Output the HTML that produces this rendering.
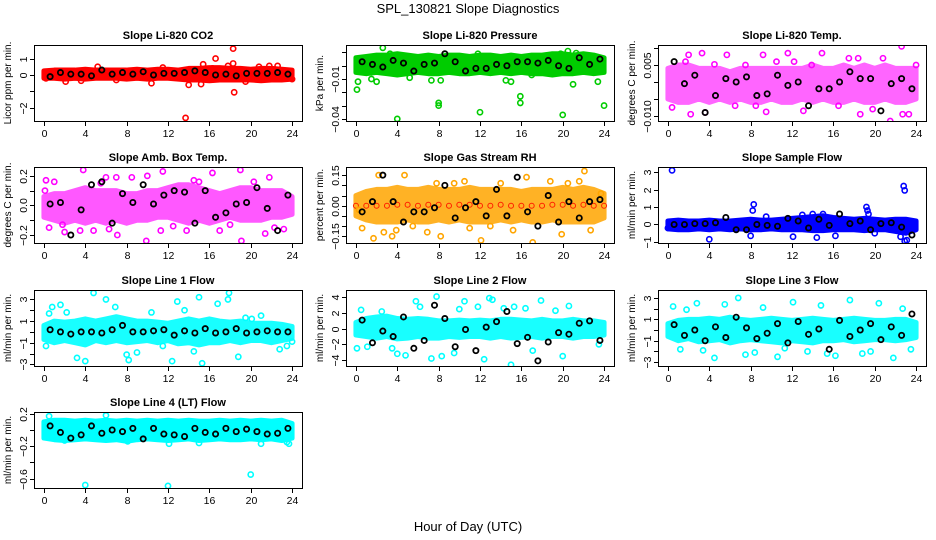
<!DOCTYPE html>
<html><head><meta charset="utf-8"><style>
body{margin:0;background:#fff}
svg{display:block;font-family:"Liberation Sans",sans-serif}
</style></head><body>
<svg id="c" width="936" height="540" viewBox="0 0 936 540">
<text x="468" y="13" font-size="13" text-anchor="middle">SPL_130821  Slope Diagnostics</text>
<text x="468" y="531" font-size="13" text-anchor="middle">Hour of Day (UTC)</text>
</svg>
<script>
const bandHours=[0,1,2,3,4,5,6,7,8,9,10,11,12,13,14,15,16,17,18,19,20,21,22,23,24];
const blackHours=[0.6,1.6,2.6,3.6,4.6,5.6,6.6,7.6,8.6,9.6,10.6,11.6,12.6,13.6,14.6,15.6,16.6,17.6,18.6,19.6,20.6,21.6,22.6,23.6];
const xTicks=[0,4,8,12,16,20,24];

const co2Lo=[-0.2,-0.2,-0.25,-0.2,-0.25,-0.2,-0.2,-0.2,-0.25,-0.2,-0.25,-0.2,-0.2,-0.25,-0.3,-0.3,-0.35,-0.3,-0.3,-0.3,-0.3,-0.35,-0.3,-0.3,-0.25];
const co2Hi=[0.25,0.3,0.3,0.3,0.35,0.3,0.3,0.3,0.3,0.35,0.3,0.35,0.35,0.3,0.4,0.4,0.45,0.45,0.4,0.4,0.35,0.4,0.4,0.35,0.3];
const co2Black=[-0.1,0.15,0.05,0.05,-0.05,0.3,0.05,0.15,0.05,0.2,0.0,0.1,0.1,0.15,0.25,0.15,0.0,0.05,-0.05,0.1,0.1,0.1,0.15,0.05];
const co2X=[13.7,18.3,18.4,16.6,10.4,14,15.2,2.1,5.2,15.4,17.8,21.8,22.6,0.2,24,20.8,16.3,18.3,3.6,7,11.5,19.5];
const co2Y=[-2.6,1.6,-1.05,1.0,-0.5,-0.6,-0.55,-0.4,0.5,0.65,0.55,0.55,0.55,-0.2,-0.25,0.5,0.4,0.7,-0.35,-0.3,0.45,-0.4];

const presLo=[-0.005,-0.006,-0.005,-0.006,-0.007,-0.006,-0.005,-0.006,-0.006,-0.005,-0.006,-0.006,-0.005,-0.006,-0.005,-0.006,-0.005,-0.006,-0.006,-0.007,-0.006,-0.006,-0.005,-0.006,-0.005];
const presHi=[0.006,0.007,0.008,0.008,0.009,0.008,0.007,0.008,0.007,0.008,0.008,0.007,0.008,0.008,0.007,0.008,0.007,0.008,0.008,0.009,0.009,0.008,0.009,0.008,0.006];
const presBlack=[0.003,0.001,-0.001,0.004,0.002,-0.004,0.001,0.002,0.009,0.003,-0.004,-0.002,-0.002,0.001,0.0,0.003,0.003,0.002,0.004,0.0,-0.002,0.006,0.001,0.005];
const presX=[0.1,0.2,2.6,4,8,8,8.2,12,15.9,15.9,20,24,20.5,21.3,19.8,1.5,2,14.5,15,23.4,21,5.2,7.3,3.3,11.8,17];
const presY=[-0.018,-0.012,0.0135,-0.04,-0.028,-0.03,-0.011,-0.035,-0.028,-0.023,-0.037,-0.030,0.011,0.0095,0.009,-0.01,-0.012,-0.011,-0.012,-0.012,-0.014,-0.009,-0.011,0.009,0.009,-0.007];

const tempLo=[-0.005,-0.006,-0.006,-0.005,-0.006,-0.005,-0.006,-0.005,-0.006,-0.006,-0.005,-0.006,-0.006,-0.005,-0.006,-0.005,-0.006,-0.006,-0.005,-0.006,-0.006,-0.005,-0.006,-0.006,-0.005];
const tempHi=[0.004,0.005,0.005,0.004,0.004,0.004,0.003,0.004,0.004,0.004,0.004,0.004,0.004,0.004,0.005,0.004,0.004,0.005,0.004,0.005,0.004,0.005,0.004,0.004,0.004];
const tempBlack=[0.006,-0.0005,0.002,-0.009,-0.004,0.001,0.0,0.0015,-0.004,-0.0035,0.002,-0.001,0.0,-0.007,-0.002,-0.002,0.0,0.003,0.001,0.001,-0.0085,-0.0005,0.001,-0.002];
const tempX=[3.3,5.7,2,9.2,11.6,14.9,22.6,21.5,2.2,3.6,9.5,13.1,18.6,22.7,23.3,0.4,4.5,17.5,18.4,20.8,24,1.7,13.9,6.5,8.5,10.5,16.5,19.8,12.2,7.5];
const tempY=[0.0085,0.008,0.008,0.008,0.0085,0.0085,0.0105,-0.0115,-0.0095,-0.009,-0.0088,-0.0085,-0.0095,-0.0095,-0.0095,-0.0075,0.0052,0.007,0.007,0.007,0.005,0.006,0.005,-0.007,-0.007,0.006,-0.007,-0.008,0.006,0.005];

const ambLo=[-0.08,-0.1,-0.12,-0.1,-0.12,-0.1,-0.12,-0.1,-0.12,-0.1,-0.1,-0.08,-0.08,-0.1,-0.12,-0.1,-0.12,-0.1,-0.08,-0.1,-0.1,-0.1,-0.08,-0.08,-0.06];
const ambHi=[0.06,0.08,0.08,0.1,0.12,0.1,0.1,0.1,0.08,0.08,0.1,0.1,0.12,0.14,0.14,0.12,0.1,0.08,0.1,0.12,0.12,0.1,0.1,0.1,0.06];
const ambBlack=[0.01,0.02,-0.2,-0.03,0.14,0.16,-0.12,0.08,0.02,0.14,0.01,0.07,0.1,0.09,-0.12,0.1,-0.08,-0.05,0.01,0.02,0.12,-0.02,-0.17,0.07];
const ambX=[0.2,0.1,1,3.8,6,7,8.5,10,11.5,14.5,16.3,19,21.8,0.5,2,3.5,4.8,6.3,7.1,9.9,11.3,13.8,17,19.1,21.4,22.3,23.2,5.5,15,20.3,1.8,12.5,18];
const ambY=[0.17,0.1,0.16,0.24,0.19,0.19,0.19,0.2,0.23,0.17,0.22,0.24,0.19,-0.15,-0.18,-0.17,-0.17,-0.16,-0.2,-0.24,-0.17,-0.17,-0.17,-0.24,-0.19,-0.15,-0.16,0.15,0.16,0.16,-0.13,-0.14,-0.13];

const rhLo=[-0.05,-0.07,-0.08,-0.08,-0.08,-0.07,-0.08,-0.08,-0.07,-0.08,-0.07,-0.08,-0.08,-0.08,-0.07,-0.08,-0.07,-0.08,-0.08,-0.07,-0.08,-0.08,-0.08,-0.08,-0.06];
const rhHi=[0.05,0.07,0.08,0.08,0.09,0.08,0.08,0.09,0.08,0.08,0.08,0.09,0.08,0.08,0.08,0.08,0.07,0.08,0.08,0.08,0.09,0.08,0.09,0.08,0.06];
const rhBlack=[-0.03,0.02,0.15,0.02,-0.08,-0.03,-0.03,-0.01,0.1,-0.06,-0.01,0.02,-0.05,0.08,-0.05,0.14,-0.03,-0.1,0.05,-0.08,0.02,-0.06,0.02,0.03];
const rhX=[1.7,2.2,4.7,0.6,2.7,3.5,6.9,8.2,12.1,17.1,19.9,22.7,22.1,16.5,11,15.2,23.7,3.9,7.8,10.5,14,18.8,21.6,0.3,5.5,9.5,13,20.5];
const rhY=[-0.16,0.15,0.15,-0.11,-0.13,-0.15,-0.13,-0.15,-0.17,-0.18,-0.14,-0.12,0.17,0.14,-0.11,-0.12,0.06,-0.12,0.11,0.12,0.11,0.12,0.12,-0.02,-0.1,0.11,-0.1,0.11];

const sfLo=[-0.25,-0.3,-0.3,-0.25,-0.3,-0.25,-0.3,-0.25,-0.3,-0.3,-0.25,-0.3,-0.3,-0.3,-0.35,-0.35,-0.3,-0.3,-0.3,-0.35,-0.3,-0.3,-0.4,-0.5,-0.3];
const sfHi=[0.2,0.25,0.2,0.2,0.25,0.2,0.2,0.25,0.3,0.25,0.25,0.3,0.35,0.4,0.45,0.5,0.4,0.35,0.3,0.35,0.3,0.25,0.3,0.3,0.2];
const sfBlack=[0.0,0.0,0.05,0.05,0.1,0.4,-0.3,-0.3,0.0,-0.05,-0.1,0.35,0.2,-0.2,0.3,-0.05,0.6,0.05,0.2,-0.3,0.05,0.1,-0.15,-0.6];
const sfX=[0.4,22.8,22.9,8.3,8.2,19.2,19.3,19.4,4,8,12.1,14.4,16.2,22.9,23.1,22.5,9.5,13,14,15,20,0.0,23.8];
const sfY=[3.1,2.2,1.95,1.15,0.8,1.0,0.8,0.6,-0.85,-0.65,-0.7,-0.75,-0.65,-0.95,-0.9,-0.7,0.45,0.55,0.6,0.6,-0.5,-0.2,-0.1];

const l1Lo=[-0.7,-1.0,-0.8,-1.0,-1.2,-0.8,-1.0,-0.8,-1.0,-0.9,-0.8,-1.0,-0.8,-1.1,-1.0,-1.2,-1.0,-1.0,-0.8,-1.0,-0.8,-0.8,-1.0,-0.8,-0.6];
const l1Hi=[0.6,1.0,0.9,1.0,1.2,1.0,1.2,1.4,1.2,1.0,1.0,0.9,0.8,1.0,1.2,1.0,1.2,1.0,0.9,1.0,0.8,0.8,0.8,0.7,0.5];
const l1Black=[0.2,0.0,-0.2,0.0,0.0,-0.1,0.2,0.6,0.0,0.0,0.1,0.2,-0.3,0.1,-0.1,0.3,-0.1,0.0,0.3,-0.1,0.0,0.1,0.0,0.0];
const l1X=[0.2,0.5,0.8,1.6,4.8,6,3.2,4,8,8.2,9,12.4,12.9,14.5,15,15.3,16.8,17.8,17.9,18.8,21,22.8,23.5,24,2.2,6.9,10.4,11.5,13.6,19.5,20.1];
const l1Y=[-1.3,1.7,2.3,2.5,3.6,3.0,-2.4,-2.7,-2.1,-2.6,-1.9,-2.7,2.8,-1.8,3.2,-2.9,2.6,3.0,3.6,-2.3,1.5,-1.6,-1.3,-0.9,1.8,2.3,1.8,-1.3,2.0,1.3,1.2];

const l2Lo=[-0.8,-1.0,-1.2,-1.0,-1.3,-1.2,-1.0,-1.2,-1.2,-1.0,-1.1,-1.0,-1.0,-1.2,-1.0,-1.2,-1.1,-1.0,-1.2,-1.0,-1.0,-1.2,-1.0,-1.0,-0.8];
const l2Hi=[0.8,1.3,1.5,1.6,1.3,1.2,1.3,1.2,1.0,1.0,1.1,1.0,1.1,1.0,1.2,1.2,1.1,1.0,1.2,1.0,1.0,1.2,1.0,1.0,0.8];
const l2Black=[1.1,-1.8,-0.3,-1.0,1.5,-2.5,-1.5,3.0,1.3,-2.3,-0.1,-2.8,0.2,0.9,2.2,-1.9,-1.1,-4.1,-1.7,-0.5,-0.7,0.7,1.0,-1.5];
const l2X=[0.1,0.5,1.1,3.5,4,4.8,5.8,7.3,7.8,8.3,9.5,10.5,11.8,12.9,13.2,14.3,15,15.3,16.4,17.9,19.3,20,20.6,23.5,6.2,2.5,10,17.1,12.4];
const l2Y=[-2.5,2.4,-2.3,-2.5,-3.2,-3.4,3.5,-3.8,4.1,-3.5,-3.1,3.5,2.8,3.9,3.7,2.6,-4.6,2.8,2.6,3.6,2.3,-3.5,2.9,-2.0,2.8,2.2,2.5,-2.8,-3.9];

const l3Lo=[-0.6,-1.0,-0.8,-1.1,-1.0,-0.9,-1.2,-1.0,-0.9,-1.0,-1.1,-1.2,-1.0,-1.1,-1.2,-1.0,-1.0,-0.9,-1.1,-1.0,-0.9,-0.9,-1.0,-0.9,-0.7];
const l3Hi=[0.6,0.9,1.0,1.0,1.1,1.0,1.2,1.0,0.9,1.0,1.1,1.0,0.9,1.0,1.1,1.0,0.9,1.0,1.1,1.0,0.9,0.9,1.0,1.0,0.7];
const l3Black=[0.5,-0.5,0.0,-1.0,0.3,-0.7,1.2,0.2,-0.8,-0.3,0.6,-1.2,0.8,-0.4,0.1,-1.8,0.9,-0.6,0.0,0.6,-0.9,0.3,-0.5,1.5];
const l3X=[0.5,1.2,2.8,4.5,5.5,6.8,7.5,9.2,10.6,12.1,13.5,14.8,16.2,17.6,18.8,20.4,21.8,22.7,23.5,3.4,8.4,11.3,15.4,19.6,1.8];
const l3Y=[2.2,-1.8,2.5,-2.6,2.4,3.0,-2.3,2.1,-2.5,2.6,-2.0,2.3,-2.4,2.8,-2.2,2.5,-2.6,2.0,-1.8,-1.9,-2.1,-1.7,-2.2,-2.0,1.9];

const l4Lo=[-0.1,-0.12,-0.13,-0.12,-0.11,-0.12,-0.13,-0.12,-0.14,-0.12,-0.11,-0.12,-0.13,-0.12,-0.11,-0.13,-0.12,-0.11,-0.12,-0.12,-0.11,-0.12,-0.11,-0.13,-0.1];
const l4Hi=[0.1,0.12,0.12,0.11,0.12,0.11,0.12,0.11,0.12,0.11,0.12,0.11,0.12,0.11,0.12,0.11,0.11,0.12,0.11,0.12,0.11,0.12,0.11,0.12,0.08];
const l4Black=[0.05,-0.03,-0.1,-0.06,0.05,-0.04,0.0,-0.02,0.02,-0.11,0.02,-0.05,-0.06,-0.08,0.02,-0.03,-0.05,0.02,-0.02,0.01,-0.02,-0.05,-0.04,0.02];
const l4X=[4,12,20,0.5,6,23.7,12.1,21,2,15,8.1,0.1,23.5];
const l4Y=[-0.68,-0.69,-0.55,0.17,0.18,-0.17,-0.17,-0.17,-0.13,-0.16,-0.14,-0.07,-0.15];

const panels=[
 {t:"Slope Li-820 CO2",yl:"Licor ppm per min.",c:"#ff0000",op:1,r:0,k:0,d:[-2.79,1.82],tk:[-2,-1,0,1],lb:["\u22122",null,"0","1"],lo:co2Lo,hi:co2Hi,bk:co2Black,sx:co2X,sy:co2Y},
 {t:"Slope Li-820 Pressure",yl:"kPa per min.",c:"#00cc00",op:1,r:0,k:1,d:[-0.0416,0.0156],tk:[-0.04,-0.03,-0.02,-0.01,0,0.01],lb:["\u22120.04",null,null,"\u22120.01",null,null],lo:presLo,hi:presHi,bk:presBlack,sx:presX,sy:presY},
 {t:"Slope Li-820 Temp.",yl:"degrees C per min.",c:"#ff00ff",op:0.6,r:0,k:2,d:[-0.0115,0.0109],tk:[-0.01,-0.005,0,0.005,0.01],lb:["\u22120.010",null,null,"0.005",null],lo:tempLo,hi:tempHi,bk:tempBlack,sx:tempX,sy:tempY},
 {t:"Slope Amb. Box Temp.",yl:"degrees C per min.",c:"#ff00ff",op:0.65,r:1,k:0,d:[-0.254,0.26],tk:[-0.2,-0.1,0,0.1,0.2],lb:["\u22120.2",null,"0.0",null,"0.2"],lo:ambLo,hi:ambHi,bk:ambBlack,sx:ambX,sy:ambY},
 {t:"Slope Gas Stream RH",yl:"percent per min.",c:"#ffa500",op:0.85,c2:"#ff2000",r:1,k:1,d:[-0.183,0.19],tk:[-0.15,-0.1,-0.05,0,0.05,0.1,0.15],lb:["\u22120.15",null,null,"0.00",null,null,"0.15"],lo:rhLo,hi:rhHi,bk:rhBlack,sx:rhX,sy:rhY},
 {t:"Slope Sample Flow",yl:"ml/min per min.",c:"#0000ff",op:1,r:1,k:2,d:[-1.06,3.29],tk:[-1,0,1,2,3],lb:["\u22121","0","1","2","3"],lo:sfLo,hi:sfHi,bk:sfBlack,sx:sfX,sy:sfY},
 {t:"Slope Line 1 Flow",yl:"ml/min per min.",c:"#00ffff",op:0.9,r:2,k:0,d:[-3.15,3.87],tk:[-3,-2,-1,0,1,2,3],lb:["\u22123",null,"\u22121",null,"1",null,"3"],lo:l1Lo,hi:l1Hi,bk:l1Black,sx:l1X,sy:l1Y},
 {t:"Slope Line 2 Flow",yl:"ml/min per min.",c:"#00ffff",op:0.9,r:2,k:1,d:[-4.76,4.94],tk:[-4,-2,0,2,4],lb:["\u22124","\u22122","0","2","4"],lo:l2Lo,hi:l2Hi,bk:l2Black,sx:l2X,sy:l2Y},
 {t:"Slope Line 3 Flow",yl:"ml/min per min.",c:"#00ffff",op:0.9,r:2,k:2,d:[-3.36,3.74],tk:[-3,-2,-1,0,1,2,3],lb:["\u22123",null,"\u22121",null,"1",null,"3"],lo:l3Lo,hi:l3Hi,bk:l3Black,sx:l3X,sy:l3Y},
 {t:"Slope Line 4 (LT) Flow",yl:"ml/min per min.",c:"#00ffff",op:1,r:3,k:0,d:[-0.716,0.222],tk:[-0.6,-0.4,-0.2,0,0.2],lb:["\u22120.6",null,"\u22120.2",null,"0.2"],lo:l4Lo,hi:l4Hi,bk:l4Black,sx:l4X,sy:l4Y}
];
const svg=document.getElementById('c');
const NS='http://www.w3.org/2000/svg';
const colX=[34,346,658], rowY=[45,167,290,412], W=268, H=76;
function mk(tag,at,parent){const e=document.createElementNS(NS,tag);for(const a in at)e.setAttribute(a,at[a]);(parent||svg).appendChild(e);return e;}
panels.forEach((p,pi)=>{
  const L=colX[p.k], T=rowY[p.r];
  const sx=h=>L+(h+0.96)/25.92*W;
  const sy=v=>T+H-(v-p.d[0])/(p.d[1]-p.d[0])*H;
  const slug=p.t.toLowerCase().replace(/[^a-z0-9]+/g,'-').replace(/^-|-$/g,'');
  const g=mk('g',{});
  
  
  const clip=mk('clipPath',{id:'cp'+pi},g);
  mk('rect',{x:L,y:T,width:W,height:H},clip);
  const pg=mk('g',{'clip-path':'url(#cp'+pi+')'},g);
  let pts=[];
  bandHours.forEach((h,i)=>pts.push(sx(h)+','+sy(p.hi[i])));
  for(let i=bandHours.length-1;i>=0;i--)pts.push(sx(bandHours[i])+','+sy(p.lo[i]));
  const band=mk('polygon',{points:pts.join(' '),fill:p.c,stroke:p.c,'stroke-width':5,'stroke-linejoin':'round',opacity:p.op},pg);
  
  
  if(p.c2){
    bandHours.forEach((h,i)=>{
      const m=mk('circle',{cx:sx(h),cy:sy((p.hi[i]+p.lo[i])/2),r:2.5,fill:'none',stroke:p.c2,'stroke-width':1},pg);
      
      
    });
  }
  p.sx.forEach((h,i)=>{
    const m=mk('circle',{cx:sx(h),cy:sy(p.sy[i]),r:2.6,fill:'none',stroke:p.c,'stroke-width':1.6},pg);
    
    
  });
  blackHours.forEach((h,i)=>{
    const m=mk('circle',{cx:sx(h),cy:sy(p.bk[i]),r:2.6,fill:'none',stroke:'#000','stroke-width':1.8},pg);
    
    
  });
  const box=mk('rect',{x:L+0.5,y:T+0.5,width:W,height:H,fill:'none',stroke:'#000','stroke-width':1},g);
  
  
  const tt=mk('text',{x:L+W/2,y:T-6,'font-size':11,'font-weight':'bold','text-anchor':'middle'},g);
  tt.textContent=p.t;
  
  
  const yt=mk('text',{x:0,y:0,'font-size':10,'text-anchor':'middle',transform:`translate(${L-23},${T+H/2}) rotate(-90)`},g);
  yt.textContent=p.yl;
  
  
  xTicks.forEach(h=>{
    const x=Math.round(sx(h))+0.5;
    mk('line',{x1:x,x2:x,y1:T+H+0.5,y2:T+H+5,stroke:'#000'},g);
    const lt=mk('text',{x:x,y:T+H+16,'font-size':10.5,'text-anchor':'middle'},g);
    lt.textContent=h;
    
    
  });
  p.tk.forEach((v,i)=>{
    const y=Math.round(sy(v))+0.5;
    mk('line',{x1:L-4,x2:L+0.5,y1:y,y2:y,stroke:'#000'},g);
    if(p.lb[i]){
      const lt=mk('text',{x:0,y:0,'font-size':10.5,'text-anchor':'middle',transform:`translate(${L-7},${y}) rotate(-90)`},g);
      lt.textContent=p.lb[i];
      
      
    }
  });
});
</script>
</body></html>
